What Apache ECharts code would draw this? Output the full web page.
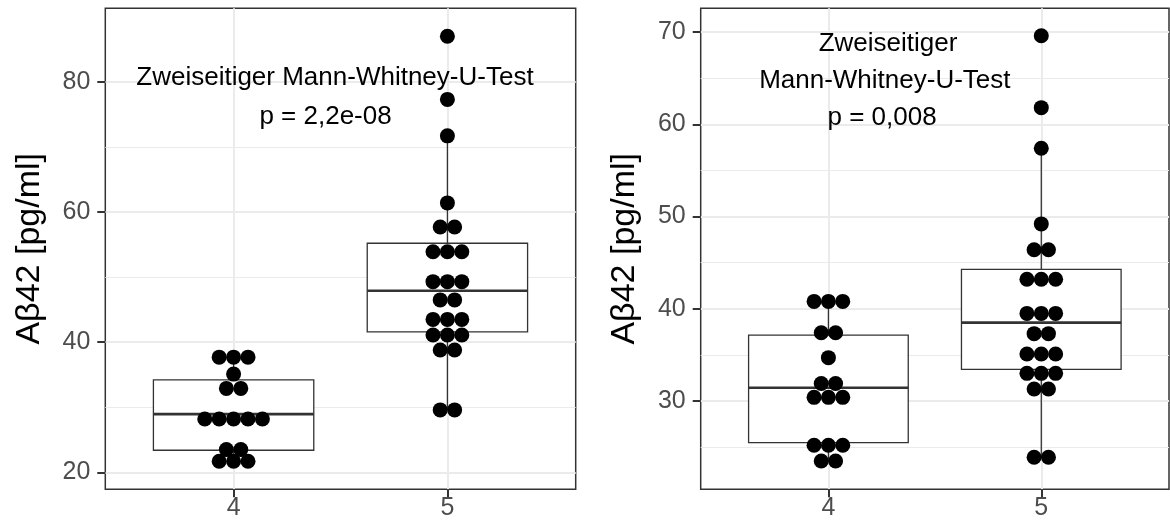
<!DOCTYPE html>
<html><head><meta charset="utf-8">
<script src="https://cdn.jsdelivr.net/npm/echarts@6/dist/echarts.min.js"></script>
<style>html,body{margin:0;padding:0;background:#fff}#c{width:1170px;height:527px}</style>
</head><body><div id="c"></div>
<script>
// ---- data ----
const categories = ['4', '5'];
const yTitle = 'Aβ42 [pg/ml]';

// left panel
const leftDots4 = [37.7,37.7,37.7, 35.1, 32.9,32.9, 28.2,28.2,28.2,28.2,28.2, 23.5,23.5, 21.7,21.7,21.7];
const leftDots5 = [87.0, 77.3, 71.7, 61.4, 57.7,57.7, 53.9,53.9,53.9, 49.3,49.3,49.3, 46.5,46.5, 43.5,43.5,43.5, 41.1,41.1,41.1, 38.8,38.8, 29.6,29.6];
// [low whisker, Q1, median, Q3, high whisker]
const leftBox4 = [21.7, 23.4, 28.95, 34.2, 37.7];
const leftBox5 = [29.6, 41.6, 47.9, 55.2, 71.7];
const leftMajor = [20, 40, 60, 80];
const leftMinor = [30, 50, 70];
const leftRange = [17.4, 91.3];
const leftNoteLines = ['Zweiseitiger Mann-Whitney-U-Test', 'p = 2,2e-08'];
const leftNotePos = [[1.474, 80.6], [1.43, 74.7]];

// right panel
const rightDots4 = [40.8,40.8,40.8, 37.4,37.4, 34.7, 31.9,31.9, 30.4,30.4,30.4, 25.2,25.2,25.2, 23.5,23.5];
const rightDots5 = [69.6, 61.8, 57.4, 49.2, 46.4,46.4, 43.2,43.2,43.2, 39.5,39.5,39.5, 37.3,37.3, 35.1,35.1,35.1, 33.0,33.0,33.0, 31.3,31.3, 23.9,23.9];
const rightBox4 = [23.5, 25.5, 31.44, 37.15, 40.8];
const rightBox5 = [23.9, 33.44, 38.5, 44.27, 57.4];
const rightMajor = [30, 40, 50, 60, 70];
const rightMinor = [25, 35, 45, 55, 65];
const rightRange = [20.43, 72.57];
const rightNoteLines = ['Zweiseitiger', 'Mann-Whitney-U-Test', 'p = 0,008'];
const rightNotePos = [[1.28, 68.75], [1.265, 64.75], [1.252, 60.65]];

// ---- styling / layout ----
const FONT = '"Liberation Sans", Arial, Helvetica, sans-serif';
const DARK = '#333333';
const GRIDC = '#EBEBEB';
const DOT_STEP = 0.0674;

function stackDots(vals, xc) {
  const out = [];
  let i = 0;
  while (i < vals.length) {
    let j = i;
    while (j < vals.length && vals[j] === vals[i]) j++;
    const n = j - i;
    for (let k = 0; k < n; k++) out.push([xc + (k - (n - 1) / 2) * DOT_STEP, vals[i]]);
    i = j;
  }
  return out;
}

function renderBox(params, api) {
  const x = api.value(0);
  const lo = api.coord([x, api.value(1)]);
  const q1 = api.coord([x, api.value(2)]);
  const md = api.coord([x, api.value(3)]);
  const q3 = api.coord([x, api.value(4)]);
  const hi = api.coord([x, api.value(5)]);
  const half = api.size([0.75, 0])[0] / 2;
  const ls = {stroke: DARK, lineWidth: 1.3, fill: null};
  return {type: 'group', children: [
    {type: 'line', shape: {x1: lo[0], y1: lo[1], x2: q1[0], y2: q1[1]}, style: ls},
    {type: 'line', shape: {x1: q3[0], y1: q3[1], x2: hi[0], y2: hi[1]}, style: ls},
    {type: 'rect', shape: {x: q1[0] - half, y: q3[1], width: 2 * half, height: q1[1] - q3[1]},
      style: {fill: '#fff', stroke: DARK, lineWidth: 1.3}},
    {type: 'line', shape: {x1: md[0] - half, y1: md[1], x2: md[0] + half, y2: md[1]},
      style: {stroke: DARK, lineWidth: 2.6}}
  ]};
}

function noteRenderer(lines) {
  return function (params, api) {
    const p = api.coord([api.value(0), api.value(1)]);
    return {type: 'text', x: p[0], y: p[1], style: {
      text: lines[params.dataIndex], fill: '#000', font: '26px ' + FONT,
      align: 'center', verticalAlign: 'middle', textAlign: 'center', textVerticalAlign: 'middle'
    }};
  };
}

const grids = [
  {left: 105.3, top: 8.3, width: 470.4, height: 481},
  {left: 700.7, top: 8.3, width: 468.3, height: 481}
];

function xAxisFor(gi) {
  return {
    type: 'value', gridIndex: gi, min: 0.4, max: 2.6,
    axisLine: {show: false},
    axisTick: {show: true, customValues: [1, 2], length: 8, lineStyle: {color: DARK, width: 2}},
    axisLabel: {customValues: [1, 2], formatter: v => categories[Math.round(v) - 1],
      color: '#4D4D4D', fontSize: 25, fontFamily: FONT, margin: 6},
    splitLine: {show: true, lineStyle: {color: GRIDC, width: 2}}
  };
}
function yMajorFor(gi, range, ticks) {
  return {
    type: 'value', gridIndex: gi, min: range[0], max: range[1],
    name: yTitle, nameLocation: 'middle', nameGap: 59,
    nameTextStyle: {fontSize: 34, color: '#000', fontFamily: FONT},
    axisLine: {show: false},
    axisTick: {show: true, customValues: ticks, length: 8, lineStyle: {color: DARK, width: 2}},
    axisLabel: {customValues: ticks, color: '#4D4D4D', fontSize: 25, fontFamily: FONT, margin: 15},
    splitLine: {show: true, lineStyle: {color: GRIDC, width: 2}}
  };
}
function yMinorFor(gi, range, ticks) {
  return {
    type: 'value', gridIndex: gi, min: range[0], max: range[1], position: 'left',
    axisLine: {show: false},
    axisTick: {show: false, customValues: ticks},
    axisLabel: {show: false, customValues: ticks},
    splitLine: {show: true, lineStyle: {color: GRIDC, width: 1}}
  };
}

const dotStyle = {color: '#000', opacity: 1};

const option = {
  backgroundColor: '#fff',
  animation: false,
  grid: grids.map(g => Object.assign({show: true, borderColor: DARK, borderWidth: 1.5, backgroundColor: '#fff', containLabel: false}, g)),
  xAxis: [xAxisFor(0), xAxisFor(1)],
  yAxis: [
    yMajorFor(0, leftRange, leftMajor), yMinorFor(0, leftRange, leftMinor),
    yMajorFor(1, rightRange, rightMajor), yMinorFor(1, rightRange, rightMinor)
  ],
  series: [
    {type: 'custom', xAxisIndex: 0, yAxisIndex: 0, z: 2, renderItem: renderBox,
      data: [[1].concat(leftBox4), [2].concat(leftBox5)]},
    {type: 'scatter', xAxisIndex: 0, yAxisIndex: 0, z: 3, symbol: 'circle', symbolSize: 15,
      itemStyle: dotStyle, emphasis: {disabled: true},
      data: stackDots(leftDots4, 1).concat(stackDots(leftDots5, 2))},
    {type: 'custom', xAxisIndex: 0, yAxisIndex: 0, z: 4, renderItem: noteRenderer(leftNoteLines),
      data: leftNotePos},
    {type: 'custom', xAxisIndex: 1, yAxisIndex: 2, z: 2, renderItem: renderBox,
      data: [[1].concat(rightBox4), [2].concat(rightBox5)]},
    {type: 'scatter', xAxisIndex: 1, yAxisIndex: 2, z: 3, symbol: 'circle', symbolSize: 15,
      itemStyle: dotStyle, emphasis: {disabled: true},
      data: stackDots(rightDots4, 1).concat(stackDots(rightDots5, 2))},
    {type: 'custom', xAxisIndex: 1, yAxisIndex: 2, z: 4, renderItem: noteRenderer(rightNoteLines),
      data: rightNotePos}
  ]
};

const chart = echarts.init(document.getElementById('c'), null, {renderer: 'canvas'});
chart.setOption(option);
</script>
</body></html>
